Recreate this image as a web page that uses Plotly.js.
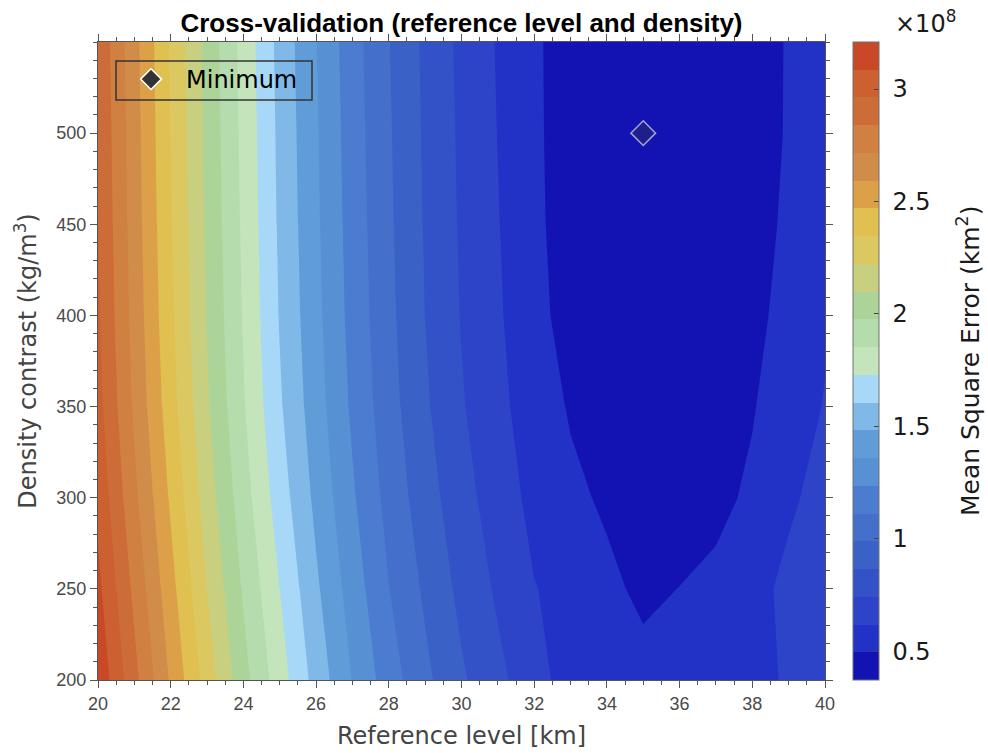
<!DOCTYPE html>
<html>
<head>
<meta charset="utf-8">
<script src="https://cdn.plot.ly/plotly-3.0.1.min.js"></script>
<style>
  html, body { margin: 0; padding: 0; background: #ffffff; }
  #chart { width: 988px; height: 753px; }
</style>
</head>
<body>
<div id="chart"></div>
<script>
// Cross-validation misfit (mean square error, in units of 1e8 km^2)
// sampled on a grid of reference level (km) and density contrast (kg/m^3).
const refLevel = [20, 21, 22, 23, 24, 25, 26, 27, 28, 29, 30, 31, 32, 33, 34, 35, 36, 37, 38, 39, 40];
const density = [200, 250, 300, 350, 400, 450, 500, 550];

const mse_d200 = [3.181, 2.876, 2.575, 2.290, 2.018, 1.786, 1.560, 1.354, 1.173, 1.018, 0.884, 0.774, 0.668, 0.563, 0.540, 0.530, 0.540, 0.560, 0.590, 0.631, 0.670];
const mse_d250 = [3.116, 2.810, 2.513, 2.222, 1.962, 1.729, 1.504, 1.303, 1.116, 0.969, 0.834, 0.724, 0.624, 0.585, 0.520, 0.475, 0.498, 0.520, 0.575, 0.652, 0.690];
const mse_d300 = [3.054, 2.745, 2.451, 2.162, 1.907, 1.668, 1.453, 1.253, 1.072, 0.922, 0.789, 0.683, 0.586, 0.520, 0.480, 0.440, 0.445, 0.470, 0.514, 0.597, 0.668];
const mse_d350 = [3.006, 2.696, 2.400, 2.116, 1.864, 1.622, 1.415, 1.215, 1.039, 0.885, 0.754, 0.652, 0.557, 0.486, 0.430, 0.405, 0.410, 0.430, 0.489, 0.558, 0.626];
const mse_d400 = [2.979, 2.671, 2.371, 2.092, 1.842, 1.598, 1.394, 1.194, 1.021, 0.865, 0.736, 0.634, 0.542, 0.440, 0.405, 0.390, 0.395, 0.415, 0.465, 0.535, 0.605];
const mse_d450 = [2.965, 2.657, 2.356, 2.079, 1.830, 1.586, 1.382, 1.183, 1.011, 0.856, 0.728, 0.625, 0.533, 0.418, 0.390, 0.378, 0.382, 0.405, 0.450, 0.517, 0.585];
const mse_d500 = [2.953, 2.645, 2.343, 2.068, 1.820, 1.577, 1.373, 1.173, 1.003, 0.849, 0.721, 0.617, 0.526, 0.416, 0.385, 0.373, 0.378, 0.400, 0.440, 0.507, 0.575];
const mse_d550 = [2.941, 2.634, 2.331, 2.057, 1.810, 1.567, 1.363, 1.163, 0.994, 0.841, 0.714, 0.610, 0.519, 0.428, 0.400, 0.390, 0.390, 0.410, 0.445, 0.505, 0.570];

// Location of the smallest misfit
const minRefLevel = [35];
const minDensity = [500];

// Contour levels (same units as the misfit values)
const levelStart = 0.4963;
const levelSize = 0.1233;
const levelEnd = 3.09;
const levelCount = 22;

// One colour per filled band, lowest band first
const bandColors = [
  '#1313b3', '#2231c6', '#2d44c9', '#3452c7', '#3a62c6', '#4470cc',
  '#4c7cd0', '#5890d4', '#609cd8', '#80b8e8', '#a8d8f8', '#c4e4bc',
  '#b4dcac', '#acd498', '#c8d080', '#dcc860', '#e0c050', '#dca048',
  '#d08c48', '#d08040', '#cc6c38', '#cc6030', '#c84828'
];

const cbTickVals = [0.5, 1, 1.5, 2, 2.5, 3];
const cbTickText = ['\u00a00.5', '\u00a01', '\u00a01.5', '\u00a02', '\u00a02.5', '\u00a03'];
const yTickVals = [200, 250, 300, 350, 400, 450, 500];

const mse = [mse_d200, mse_d250, mse_d300, mse_d350, mse_d400, mse_d450, mse_d500, mse_d550];
const nBands = bandColors.length;

// fill colours: band i is sampled at i/(nBands-1) by the contour colour map
const fillScale = bandColors.map((c, i) => [i / (nBands - 1), c]);

// colour bar: one full-height step per band between the outer levels
const cbMin = levelStart - levelSize;
const cbMax = levelStart + levelCount * levelSize;
const stepScale = [];
bandColors.forEach((c, i) => {
  stepScale.push([i / nBands, c]);
  stepScale.push([(i + 1) / nBands, c]);
});

const humanist = 'DejaVu Sans, sans-serif';
const helv = 'Liberation Sans, Arial, sans-serif';

const traces = [
  {
    type: 'contour',
    x: refLevel,
    y: density,
    z: mse,
    autocontour: false,
    contours: { start: levelStart, end: levelEnd, size: levelSize, coloring: 'fill', showlines: false },
    line: { width: 0, smoothing: 0 },
    colorscale: fillScale,
    showscale: false,
    showlegend: false,
    hoverinfo: 'x+y+z'
  },
  {
    type: 'scatter',
    mode: 'markers',
    x: minRefLevel,
    y: minDensity,
    showlegend: false,
    hoverinfo: 'x+y',
    marker: {
      symbol: 'diamond', size: 19,
      color: 'rgba(57,57,57,0.33)',
      line: { color: 'rgba(255,255,255,0.6)', width: 1.5 }
    }
  },
  {
    // legend key for the minimum marker
    type: 'scatter',
    mode: 'markers',
    x: [null],
    y: [null],
    name: 'Minimum',
    showlegend: true,
    marker: {
      symbol: 'diamond', size: 16,
      color: '#333333',
      line: { color: '#ffffff', width: 1.5 }
    }
  },
  {
    // carries the banded colour bar for the misfit levels
    type: 'scatter',
    mode: 'markers',
    x: [null],
    y: [null],
    showlegend: false,
    hoverinfo: 'skip',
    marker: {
      color: [cbMin],
      cmin: cbMin,
      cmax: cbMax,
      colorscale: stepScale,
      showscale: true,
      colorbar: {
        x: 1.0385, xanchor: 'left', xpad: 0,
        y: 0.5, yanchor: 'middle', ypad: 0,
        len: 1, lenmode: 'fraction',
        thickness: 26, thicknessmode: 'pixels',
        outlinecolor: '#707070', outlinewidth: 1,
        tickmode: 'array', tickvals: cbTickVals, ticktext: cbTickText,
        ticks: 'inside', ticklen: 5, tickcolor: '#444444', tickwidth: 1,
        tickfont: { family: humanist, size: 24, color: '#1a1a1a' }
      }
    }
  }
];

const layout = {
  width: 988,
  height: 753,
  margin: { l: 98, r: 163, t: 42, b: 73, pad: 0 },
  paper_bgcolor: '#ffffff',
  plot_bgcolor: '#ffffff',
  title: {
    text: '<b>Cross-validation (reference level and density)</b>',
    font: { family: helv, size: 26, color: '#000000' },
    x: 0.5, xref: 'paper', xanchor: 'center',
    y: 1 - 23 / 753, yref: 'container', yanchor: 'middle'
  },
  xaxis: {
    range: [20, 40],
    tickmode: 'linear', tick0: 20, dtick: 2,
    ticks: 'outside', ticklen: 7, tickwidth: 1, tickcolor: '#555555',
    minor: { tick0: 20, dtick: 0.5, ticks: 'outside', ticklen: 4, tickcolor: '#555555', tickwidth: 1 },
    showline: true, linecolor: '#555555', linewidth: 1, mirror: 'allticks',
    showgrid: false, zeroline: false,
    tickfont: { family: helv, size: 18, color: '#4a4a4a' },
    title: { text: 'Reference level [km]', font: { family: humanist, size: 24, color: '#444444' }, standoff: 14 }
  },
  yaxis: {
    range: [200, 550],
    tickmode: 'array', tickvals: yTickVals,
    ticks: 'outside', ticklen: 7, tickwidth: 1, tickcolor: '#555555',
    minor: { tick0: 200, dtick: 10, ticks: 'outside', ticklen: 4, tickcolor: '#555555', tickwidth: 1 },
    showline: true, linecolor: '#555555', linewidth: 1, mirror: 'allticks',
    showgrid: false, zeroline: false,
    tickfont: { family: helv, size: 18, color: '#4a4a4a' },
    title: { text: 'Density contrast (kg/m<sup>3</sup>)', font: { family: humanist, size: 24, color: '#444444' }, standoff: 12 }
  },
  legend: {
    x: (116 - 98) / 727, xanchor: 'left',
    y: 1 - (57 - 42) / 638, yanchor: 'top',
    bgcolor: 'rgba(0,0,0,0)',
    borderwidth: 0,
    font: { family: humanist, size: 24, color: '#000000' },
    itemwidth: 60
  },
  shapes: [
    {
      // frame around the legend entry
      type: 'rect', xref: 'paper', yref: 'paper', layer: 'above',
      x0: (116 - 98) / 727, x1: (312 - 98) / 727,
      y0: 1 - (100 - 42) / 638, y1: 1 - (61 - 42) / 638,
      line: { color: '#333333', width: 1.5 },
      fillcolor: 'rgba(0,0,0,0)'
    }
  ],
  annotations: [
    {
      text: '\u00d710<sup>8</sup>',
      xref: 'paper', yref: 'paper',
      x: (893 - 98) / 727, y: (680 - 22) / 638,
      xanchor: 'left', yanchor: 'middle',
      showarrow: false,
      font: { family: humanist, size: 24, color: '#1a1a1a' }
    },
    {
      text: 'Mean Square Error (km<sup>2</sup>)',
      xref: 'paper', yref: 'paper',
      x: (968 - 98) / 727, y: 0.5,
      xanchor: 'center', yanchor: 'middle',
      textangle: -90,
      showarrow: false,
      font: { family: humanist, size: 25, color: '#1a1a1a' }
    }
  ]
};

Plotly.newPlot('chart', traces, layout, { displayModeBar: false, staticPlot: true });
</script>
</body>
</html>
